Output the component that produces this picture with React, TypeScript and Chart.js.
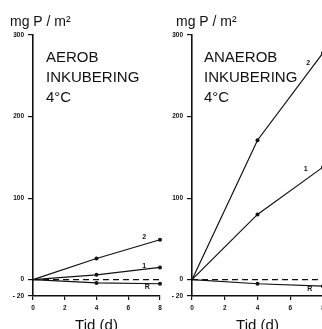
import React, { useEffect, useRef } from "react";
import { Chart, registerables } from "chart.js";

Chart.register(...registerables);

// ---- data ----
const days = [0, 4, 8];
const xTickValues = [0, 2, 4, 6, 8];
const yTickValues = [-20, 0, 100, 200, 300];

const aerob2 = [0, 26, 49];
const aerob1 = [0, 6, 15];
const aerobR = [0, -4, -5];

const anaerob2 = [0, 171, 278];
const anaerob1 = [0, 80, 138];
const anaerobR = [0, -5, -8];

const zeroLine = [0, 0];
const zeroDays = [0, 8];

const seriesNames = ["2", "1", "R"];
const aerobTitle = ["AEROB", "INKUBERING", "4°C"];
const anaerobTitle = ["ANAEROB", "INKUBERING", "4°C"];
const unitLabel = "mg P / m²";
const xTitle = "Tid (d)";

// label anchors (data space) for the series names
const aerobLabelAt = [
  [7.0, 52],
  [7.0, 17],
  [7.2, -9],
];
const anaerobLabelAt = [
  [7.1, 265],
  [6.95, 136],
  [7.2, -11],
];

const FONT = "'Liberation Sans', Arial, Helvetica, sans-serif";
const INK = "#111";

type PanelCfg = {
  series: number[][];
  title: string[];
  labelAt: number[][];
  yWidth: number;
  unitX: number;
  titleX: number;
};

function buildChart(canvas: HTMLCanvasElement, cfg: PanelCfg) {
  const pts = (vals: number[], xs: number[]) => vals.map((v, i) => ({ x: xs[i], y: v }));
  const lineDs = (vals: number[]) => ({
    data: pts(vals, days),
    borderColor: INK,
    backgroundColor: INK,
    borderWidth: 1.2,
    pointRadius: [0, 2, 2],
    pointBackgroundColor: INK,
    pointBorderWidth: 0,
    tension: 0,
    clip: false as const,
  });

  const annot = {
    id: "annot",
    afterDraw(chart: any) {
      const ctx = chart.ctx;
      ctx.save();
      ctx.fillStyle = INK;
      ctx.textBaseline = "alphabetic";
      ctx.textAlign = "left";
      ctx.font = `14px ${FONT}`;
      ctx.fillText(unitLabel, cfg.unitX, 26);
      ctx.font = `15px ${FONT}`;
      cfg.title.forEach((t, i) => {
        ctx.fillText(t, cfg.titleX, 62 + i * 20);
      });
      const xs = chart.scales.x;
      const ys = chart.scales.y;
      ctx.font = `bold 7px ${FONT}`;
      ctx.textAlign = "center";
      ctx.textBaseline = "middle";
      cfg.labelAt.forEach((p, i) => {
        ctx.fillText(seriesNames[i], xs.getPixelForValue(p[0]), ys.getPixelForValue(p[1]));
      });
      ctx.restore();
    },
  };

  return new Chart(canvas, {
    type: "line",
    data: {
      datasets: [
        {
          data: pts(zeroLine, zeroDays),
          borderColor: INK,
          borderWidth: 1.2,
          borderDash: [6, 4],
          pointRadius: 0,
          clip: false as const,
        } as any,
        lineDs(cfg.series[0]),
        lineDs(cfg.series[1]),
        lineDs(cfg.series[2]),
      ],
    },
    options: {
      animation: false,
      responsive: false,
      maintainAspectRatio: false,
      layout: { padding: { left: 0, right: 10, top: 35, bottom: 0 } },
      plugins: { legend: { display: false }, tooltip: { enabled: false }, title: { display: false } },
      scales: {
        x: {
          type: "linear",
          min: 0,
          max: 8,
          afterBuildTicks: (s: any) => {
            s.ticks = xTickValues.map((v) => ({ value: v }));
          },
          afterFit: (s: any) => {
            s.height = 44;
          },
          grid: { drawOnChartArea: false, drawTicks: true, tickLength: 4, color: INK, lineWidth: 1.2 },
          border: { display: true, color: INK, width: 1.6 },
          ticks: { color: INK, font: { size: 6.5, weight: "bold", family: FONT }, padding: 4, maxRotation: 0 },
          title: {
            display: true,
            text: xTitle,
            color: INK,
            font: { size: 15, family: FONT, lineHeight: 1.2 },
            padding: { top: 0, bottom: 5 },
          },
        },
        y: {
          type: "linear",
          min: -20,
          max: 300,
          afterBuildTicks: (s: any) => {
            s.ticks = yTickValues.map((v) => ({ value: v }));
          },
          afterFit: (s: any) => {
            s.width = cfg.yWidth;
          },
          grid: { drawOnChartArea: false, drawTicks: true, tickLength: 5, color: INK, lineWidth: 1.2 },
          border: { display: true, color: INK, width: 1.6 },
          ticks: {
            color: INK,
            font: { size: 6.5, weight: "bold", family: FONT },
            padding: 4,
            callback: (v: any) => (v < 0 ? "- " + Math.abs(v) : String(v)),
          },
        },
      },
    } as any,
    plugins: [annot],
  });
}

export default function App() {
  const leftRef = useRef<HTMLCanvasElement>(null);
  const rightRef = useRef<HTMLCanvasElement>(null);

  useEffect(() => {
    Chart.defaults.font.family = FONT;
    const a = buildChart(leftRef.current!, {
      series: [aerob2, aerob1, aerobR],
      title: aerobTitle,
      labelAt: aerobLabelAt,
      yWidth: 33,
      unitX: 10,
      titleX: 46,
    });
    const b = buildChart(rightRef.current!, {
      series: [anaerob2, anaerob1, anaerobR],
      title: anaerobTitle,
      labelAt: anaerobLabelAt,
      yWidth: 31,
      unitX: 15,
      titleX: 43,
    });
    return () => {
      a.destroy();
      b.destroy();
    };
  }, []);

  return (
    <div
      style={{
        position: "fixed",
        left: 0,
        top: 0,
        width: 322,
        height: 329,
        overflow: "hidden",
        background: "#fff",
      }}
    >
      <canvas
        ref={leftRef}
        width={170}
        height={340}
        style={{ position: "absolute", left: 0, top: 0, width: 170, height: 340 }}
      />
      <canvas
        ref={rightRef}
        width={172}
        height={340}
        style={{ position: "absolute", left: 161, top: 0, width: 172, height: 340 }}
      />
    </div>
  );
}
